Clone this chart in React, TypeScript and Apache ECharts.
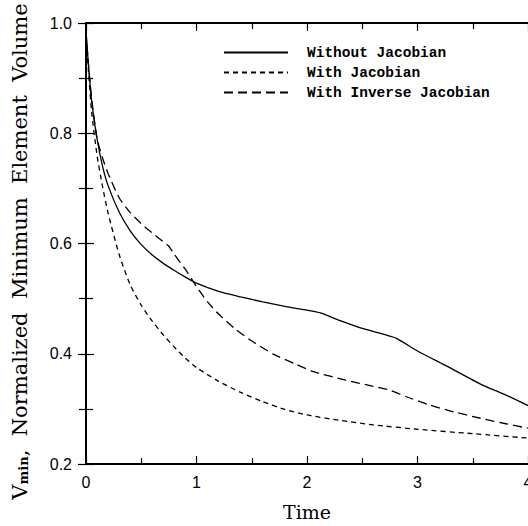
import React, { useEffect, useRef } from "react";
import * as echarts from "echarts";

const seriesNames = ["Without Jacobian", "With Jacobian", "With Inverse Jacobian"];

const withoutT = [0, 0.02, 0.05, 0.1, 0.15, 0.2, 0.3, 0.4, 0.5, 0.6, 0.7, 0.8, 0.9, 1.0, 1.2, 1.4, 1.6, 1.8, 2.0, 2.12, 2.3, 2.5, 2.7, 2.81, 3.0, 3.27, 3.57, 3.8, 4.0];
const withoutV = [0.985, 0.93, 0.86, 0.79, 0.74, 0.705, 0.657, 0.623, 0.598, 0.579, 0.564, 0.551, 0.539, 0.528, 0.513, 0.503, 0.494, 0.486, 0.479, 0.474, 0.46, 0.446, 0.435, 0.428, 0.405, 0.377, 0.345, 0.325, 0.306];

const withT = [0, 0.02, 0.05, 0.1, 0.15, 0.2, 0.3, 0.4, 0.5, 0.6, 0.7, 0.8, 0.9, 1.0, 1.2, 1.4, 1.6, 1.8, 2.0, 2.3, 2.6, 3.0, 3.5, 4.0];
const withV = [0.985, 0.92, 0.84, 0.76, 0.703, 0.655, 0.58, 0.525, 0.488, 0.459, 0.434, 0.412, 0.392, 0.375, 0.35, 0.33, 0.313, 0.299, 0.289, 0.279, 0.271, 0.263, 0.255, 0.247];

const inverseT = [0, 0.02, 0.05, 0.1, 0.15, 0.2, 0.3, 0.4, 0.5, 0.6, 0.7, 0.75, 0.8, 0.9, 1.0, 1.1, 1.2, 1.35, 1.5, 1.7, 1.9, 2.05, 2.35, 2.6, 2.75, 2.9, 3.11, 3.3, 3.57, 3.8, 4.0];
const inverseV = [0.985, 0.93, 0.865, 0.79, 0.755, 0.727, 0.683, 0.656, 0.636, 0.619, 0.603, 0.595, 0.58, 0.553, 0.522, 0.494, 0.472, 0.445, 0.423, 0.399, 0.381, 0.368, 0.352, 0.341, 0.334, 0.322, 0.307, 0.296, 0.283, 0.273, 0.265];

const xTicks = [0, 1, 2, 3, 4];
const yTicks = [0.2, 0.4, 0.6, 0.8, 1.0];

const pair = (t: number[], v: number[]) => t.map((x, i) => [x, v[i]]);

export default function App() {
  const ref = useRef<HTMLDivElement>(null);
  useEffect(() => {
    if (!ref.current) return;
    const chart = echarts.init(ref.current, null, { renderer: "svg" });
    const axisLine = { show: true, lineStyle: { color: "#000", width: 1.8 } };
    const tickStyle = { color: "#000", width: 1.2 };
    const xCommon = {
      type: "value" as const,
      min: xTicks[0],
      max: xTicks[xTicks.length - 1],
      interval: 1,
      axisLine,
      axisTick: { show: true, inside: true, length: 8, lineStyle: tickStyle },
      minorTick: { show: true, splitNumber: 2, length: 6, lineStyle: tickStyle },
      splitLine: { show: false },
      minorSplitLine: { show: false },
    };
    const yCommon = {
      type: "value" as const,
      min: yTicks[0],
      max: yTicks[yTicks.length - 1],
      interval: 0.2,
      axisLine,
      axisTick: { show: true, inside: true, length: 8, lineStyle: tickStyle },
      minorTick: { show: true, splitNumber: 2, length: 7, lineStyle: tickStyle },
      splitLine: { show: false },
      minorSplitLine: { show: false },
    };
    const lineCommon = { color: "#000", width: 1.3 };
    const seriesCommon = {
      type: "line" as const,
      symbol: "none",
      smooth: 0.2,
      itemStyle: { color: "#000" },
    };
    chart.setOption({
      animation: false,
      backgroundColor: "#fff",
      grid: { left: 86, top: 23, right: 12, bottom: 60 },
      legend: {
        orient: "vertical",
        left: 218,
        top: 40,
        itemWidth: 64,
        itemHeight: 14,
        itemGap: 5,
        itemStyle: { opacity: 0 },
        textStyle: {
          fontFamily: "Liberation Mono",
          fontWeight: "bold",
          fontSize: 14.5,
          color: "#000",
          padding: [0, 0, 0, 14],
        },
        data: seriesNames,
      },
      xAxis: [
        {
          ...xCommon,
          position: "bottom",
          name: "Time",
          nameLocation: "middle",
          nameGap: 38,
          nameTextStyle: { fontFamily: "DejaVu Serif", fontSize: 19, color: "#000" },
          axisLabel: {
            show: true,
            margin: 10,
            fontFamily: "Liberation Sans",
            fontSize: 16,
            color: "#000",
          },
        },
        { ...xCommon, position: "top", axisLabel: { show: false } },
      ],
      yAxis: [
        {
          ...yCommon,
          position: "left",
          name: "{a|V}{b|min}{a|,  Normalized  Minimum  Element  Volume}",
          nameLocation: "middle",
          nameGap: 56,
          nameRotate: 90,
          nameTextStyle: {
            color: "#000",
            padding: [0, 16, 0, 0],
            rich: {
              a: { fontFamily: "DejaVu Serif", fontSize: 21, color: "#000", verticalAlign: "bottom" },
              b: { fontFamily: "DejaVu Serif", fontSize: 13, fontWeight: "bold", color: "#000", padding: [10, 0, 0, 0], verticalAlign: "bottom" },
            },
          },
          axisLabel: {
            show: true,
            margin: 14,
            fontFamily: "Liberation Sans",
            fontSize: 16,
            color: "#000",
            formatter: (v: number) => v.toFixed(1),
          },
        },
        { ...yCommon, position: "right", axisLabel: { show: false } },
      ],
      series: [
        {
          ...seriesCommon,
          name: seriesNames[0],
          data: pair(withoutT, withoutV),
          lineStyle: { ...lineCommon, type: "solid" },
        },
        {
          ...seriesCommon,
          name: seriesNames[1],
          data: pair(withT, withV),
          lineStyle: { ...lineCommon, type: [5, 4] },
        },
        {
          ...seriesCommon,
          name: seriesNames[2],
          data: pair(inverseT, inverseV),
          lineStyle: { ...lineCommon, type: [9, 5] },
        },
      ],
    });
    return () => chart.dispose();
  }, []);
  return (
    <div style={{ position: "fixed", left: 0, top: 0, width: 528, height: 526, overflow: "hidden", background: "#fff" }}>
      <div ref={ref} style={{ width: 540, height: 526 }} />
    </div>
  );
}
